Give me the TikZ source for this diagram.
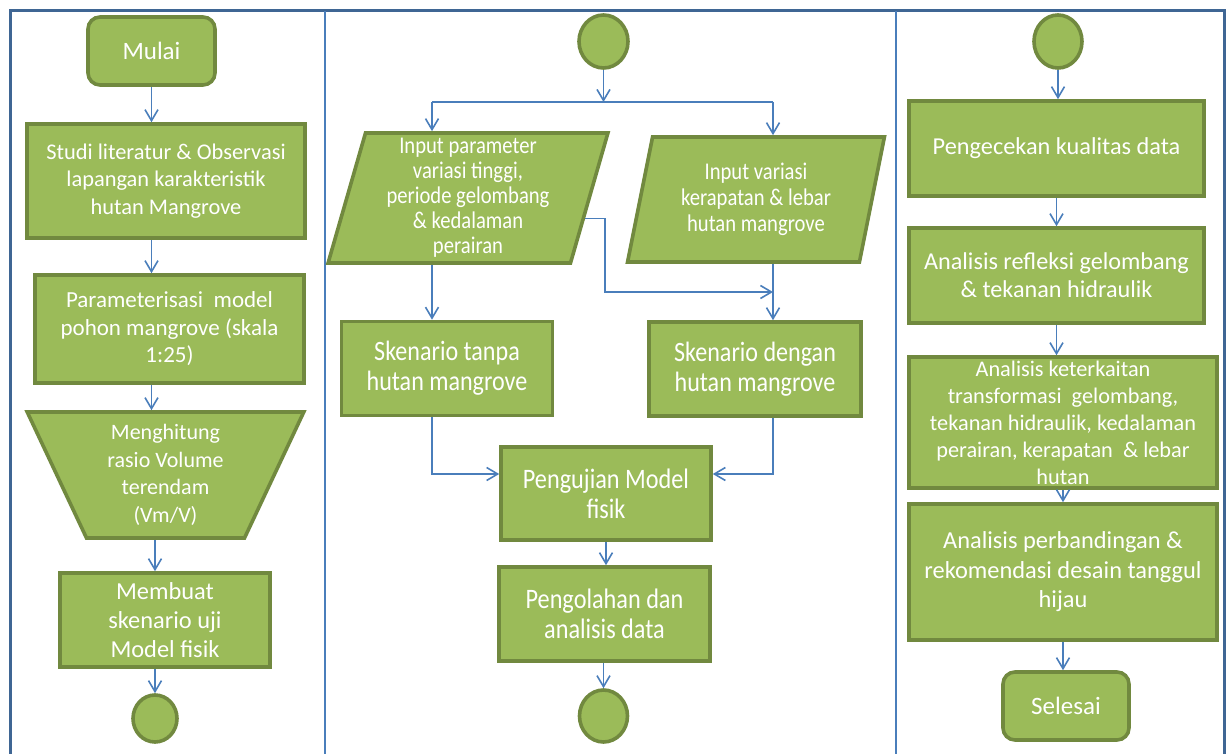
\documentclass[tikz,border=0pt]{standalone}
\usepackage{fontspec}
\setmainfont{Carlito}
\newfontfamily\narrowfont[FakeStretch=0.86]{Carlito}
\usetikzlibrary{arrows.meta, shapes.geometric}
\definecolor{boxgreen}{HTML}{9BBB59}
\definecolor{boxedge}{HTML}{71893F}
\definecolor{flowblue}{HTML}{4A7EBB}
\definecolor{frameblue}{HTML}{3F6694}
\newcommand{\boxfont}[2]{\fontsize{#1}{#2}\selectfont}
\tikzset{
  proc/.style={draw=boxedge, fill=boxgreen, line width=1.8pt, text=white, align=center, inner sep=0pt},
  term/.style={proc, rounded corners=6pt},
  joint/.style={proc, ellipse},
  inbox/.style={proc, trapezium, trapezium left angle=76, trapezium right angle=104, trapezium stretches=true},
  arr/.style={draw=flowblue, line width=0.8pt, -{Straight Barb[length=5.5pt,width=6.5pt]}},
}

\begin{document}
\begin{tikzpicture}[x=0.5pt, y=-0.5pt]
        \useasboundingbox (0,0) rectangle (1227,754);
        \draw[frameblue, line width=1.5pt] (10,754) -- (10,11) -- (1224,11) -- (1224,754);
        \foreach \X in {325, 896} {
          \draw[flowblue, line width=0.7pt] (\X,11) -- (\X,754);
        }

        \node[term, minimum width=63.5pt, minimum height=34pt, font=\boxfont{12.5}{14}] (mulai) at (151.5,51) {Mulai};
        \node[proc, minimum width=139pt, minimum height=57pt, font=\boxfont{11.2}{13.75}] (studi) at (166,181) {Studi literatur \& Observasi\\ lapangan karakteristik\\ hutan Mangrove};
        \node[proc, minimum width=134.5pt, minimum height=54pt, font=\boxfont{11.5}{13.75}] (param) at (169.5,329) {Parameterisasi\ \ model\\ pohon mangrove (skala\\ 1:25)};
        \node[proc, trapezium, trapezium angle=66.6, shape border rotate=180, trapezium stretches=true, minimum width=138.5pt, minimum height=63pt, font=\boxfont{11}{13.75}] (hitung) at (165.5,475) {Menghitung\\ rasio Volume\\ terendam\\ (Vm/V)};
        \node[proc, minimum width=105pt, minimum height=47pt, font=\boxfont{12.2}{14.5}] (membuat) at (165,620) {Membuat\\ skenario uji\\ Model fisik};
        \node[joint, minimum width=22pt, minimum height=23.5pt] (endA) at (155,718.5) {};

        \node[joint, minimum width=24.5pt, minimum height=26.5pt] (startB) at (603.5,41.5) {};
        \coordinate (splitL) at (432,102);
        \coordinate (splitR) at (773,102);
        \coordinate (join) at (773,292);
        \node[inbox, minimum width=140pt, minimum height=65pt, font=\narrowfont\boxfont{12}{12.5}] (inpar) at (468,198) {Input parameter\\ variasi tinggi,\\ periode gelombang\\ \& kedalaman\\ perairan};
        \node[inbox, minimum width=129pt, minimum height=62.5pt, font=\narrowfont\boxfont{12}{13}] (indeng) at (756,199.5) {Input variasi\\ kerapatan \& lebar\\ hutan mangrove};
        \node[proc, minimum width=105.5pt, minimum height=47pt, font=\narrowfont\boxfont{14}{15}] (sktanpa) at (447,368.5) {Skenario tanpa\\ hutan mangrove};
        \node[proc, minimum width=106pt, minimum height=47pt, font=\narrowfont\boxfont{14}{15}] (skdeng) at (755,369) {Skenario dengan\\ hutan mangrove};
        \node[proc, minimum width=105pt, minimum height=46.5pt, font=\narrowfont\boxfont{14.1}{15}] (uji) at (606,493.5) {Pengujian Model\\ fisik};
        \node[proc, minimum width=105.5pt, minimum height=47pt, font=\narrowfont\boxfont{14.1}{15}] (olah) at (604.5,614) {Pengolahan dan\\ analisis data};
        \node[joint, minimum width=24pt, minimum height=26pt] (endB) at (603.5,716) {};

        \node[joint, minimum width=24pt, minimum height=26.5pt] (startC) at (1058,41.5) {};
        \node[proc, minimum width=147.5pt, minimum height=47.5pt, font=\boxfont{12.15}{14}] (cek) at (1056.5,148.5) {Pengecekan kualitas data};
        \node[proc, minimum width=147.5pt, minimum height=47.5pt, font=\boxfont{12.1}{14}] (refl) at (1056.5,275.5) {Analisis refleksi gelombang\\ \& tekanan hidraulik};
        \node[proc, minimum width=154pt, minimum height=65.5pt, font=\boxfont{11.15}{13.5}] (kait) at (1063,422.5) {Analisis keterkaitan\\ transformasi\ \ gelombang,\\ tekanan hidraulik, kedalaman\\ perairan, kerapatan\ \ \& lebar\\ hutan};
        \node[proc, minimum width=154pt, minimum height=68pt, font=\boxfont{12.2}{14.75}] (banding) at (1063,572) {Analisis perbandingan \&\\ rekomendasi desain tanggul\\ hijau};
        \node[term, minimum width=63pt, minimum height=34pt, font=\boxfont{12.5}{14}] (selesai) at (1066,706) {Selesai};

        \draw[arr] (mulai.south) -- (studi.north -| mulai.south);
        \draw[arr] (studi.south -| mulai) -- (param.north -| mulai);
        \draw[arr] (param.south -| mulai) -- (hitung.90 -| mulai);
        \draw[arr] (hitung.270 -| endA) -- (membuat.north -| endA);
        \draw[arr] (membuat.south -| endA) -- (endA.north);

        \draw[arr] (startB.south) -- (startB.south |- splitL);
        \draw[flowblue, line width=0.8pt] (splitL) -- (splitR);
        \draw[arr] (splitL) -- (inpar.north -| splitL);
        \draw[arr] (splitR) -- (indeng.north -| splitR);
        \draw[arr] (inpar.south -| splitL) -- (sktanpa.north -| splitL);
        \draw[arr] (indeng.south -| splitR) -- (skdeng.north -| splitR);
        \draw[arr] (inpar.-10) -- ++(20,0) |- (join);
        \draw[arr] (sktanpa.south -| splitL) |- ([yshift=9.75pt]uji.west);
        \draw[arr] (skdeng.south -| join) |- ([yshift=9.75pt]uji.east);
        \draw[arr] (uji.south) -- (olah.north -| uji.south);
        \draw[arr] (olah.south -| endB) -- (endB.north);

        \foreach \X/\Y in {startC/cek, cek/refl, refl/kait, kait/banding, banding/selesai} {
          \draw[arr] (\X.south) -- (\X.south |- \Y.north);
        }
      \end{tikzpicture}
\end{document}
